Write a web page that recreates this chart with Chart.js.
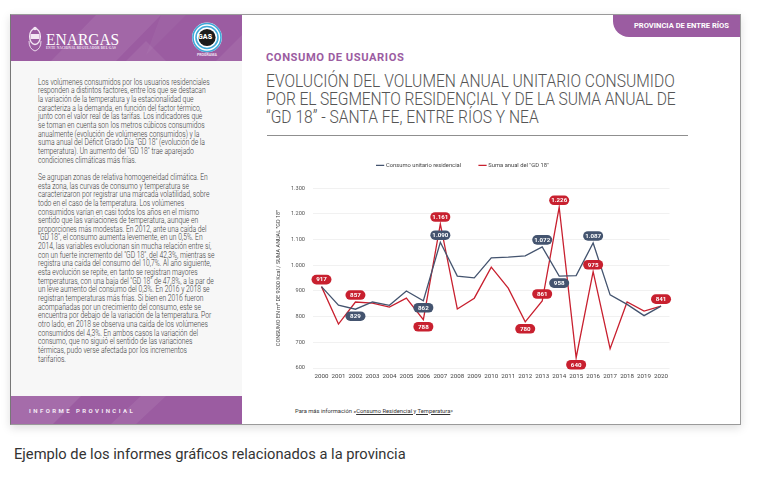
<!DOCTYPE html>
<html lang="es"><head><meta charset="utf-8">
<script src="https://cdn.jsdelivr.net/npm/chart.js@4"></script>
<style>
html,body{margin:0;padding:0;background:#fff;width:757px;height:481px;overflow:hidden;font-family:Roboto,sans-serif}
.abs{position:absolute;white-space:nowrap}
#card{position:absolute;left:10px;top:14px;width:729px;height:409px;background:#fff;border:1px solid #9a9a9a;border-left-color:#777;box-shadow:0 3px 9px rgba(0,0,0,.13);box-sizing:content-box}
#side{position:absolute;left:11px;top:15px;width:231px;height:409px;background:#f7f7f7}
.band{position:absolute;left:11px;width:231px;background:#9b5ca1;overflow:hidden}
.band svg{position:absolute;left:0;top:0}
#tab{position:absolute;left:613px;top:15px;width:127px;height:22px;background:#9b5ca1;border-bottom-left-radius:16px;color:#fff;font:700 7.6px/22px Roboto,sans-serif;text-align:right;padding-right:11px;box-sizing:border-box}
#para{position:absolute;left:38px;top:0;font:300 8.35px/8.65px Roboto,sans-serif;color:#3a3a3a;transform:scaleX(.807);transform-origin:0 0}
#para div{position:absolute;left:0;white-space:nowrap}
#chartWrap{position:absolute;left:253px;top:144px;width:420px;height:246px}
</style></head><body>
<div id="card"></div>
<div id="side"></div>
<div class="band" style="top:15px;height:46px"><svg width="231" height="46"><polygon points="40,46 85,0 150,0 105,46" fill="#fff" opacity=".07"/><polygon points="115,46 135,26 155,46" fill="#fff" opacity=".07"/><polygon points="205,46 231,20 231,46" fill="#fff" opacity=".07"/><polygon points="150,0 175,0 135,40" fill="#fff" opacity=".04"/></svg></div>
<div class="band" style="top:396px;height:28px"><svg width="231" height="28"><polygon points="0,0 70,0 42,28 0,28" fill="#fff" opacity=".1"/><polygon points="100,28 130,0 155,0 125,28" fill="#fff" opacity=".07"/></svg></div>
<svg class="abs" style="left:0;top:0" width="242" height="62">
<ellipse cx="35" cy="36.5" rx="5.4" ry="8" fill="none" stroke="#f3e6f4" stroke-width="1.3"/>
<rect x="30.5" y="34" width="9" height="5" fill="#f3e6f4"/>
<circle cx="35" cy="28.5" r="1.8" fill="#f3e6f4"/>
<path d="M29 41 q0 8 6 10 q6 -2 6 -10" fill="none" stroke="#f3e6f4" stroke-width=".9"/>
<circle cx="207" cy="37.5" r="15" fill="#fff"/>
<circle cx="207" cy="37.5" r="14" fill="none" stroke="#3fa9d8" stroke-width="1.6"/>
<circle cx="207" cy="37.5" r="11" fill="none" stroke="#3fa9d8" stroke-width="1.6"/>
<circle cx="207" cy="37.5" r="8.6" fill="#1c1c1c"/>
</svg>
<div class="abs" style="left:45.5px;top:27.5px;font:400 16.5px/24px 'Liberation Serif',serif;color:#fff;transform:scaleX(.94);transform-origin:0 0">ENARGAS</div>
<div class="abs" style="left:46px;top:46.3px;font:700 3.3px/5px 'Liberation Serif',serif;color:#f3e6f4;letter-spacing:.17px">ENTE NACIONAL REGULADOR DEL GAS</div>
<div class="abs" style="left:198px;top:33px;font:900 7px/9px Roboto,sans-serif;color:#fff;letter-spacing:.1px">GAS</div>
<div class="abs" style="left:197px;top:52.5px;font:700 3.6px/5px Roboto,sans-serif;color:#f0e2f2">PROGRAMA</div>
<div id="para"></div>
<div class="abs" style="left:29px;top:405px;font:700 6px/11px Roboto,sans-serif;color:#f4eaf5;letter-spacing:2.45px">INFORME PROVINCIAL</div>
<div id="tab">PROVINCIA DE ENTRE RÍOS</div>
<div class="abs" style="left:266px;top:50px;font:700 11.2px/15px Roboto,sans-serif;color:#9b5ca1;letter-spacing:.55px">CONSUMO DE USUARIOS</div>
<div class="abs" style="left:266px;top:72px;font:300 18.4px/18.2px Roboto,sans-serif;color:#555;transform:scaleX(.85);transform-origin:0 0">EVOLUCIÓN DEL VOLUMEN ANUAL UNITARIO CONSUMIDO<br><span style="letter-spacing:-.16px">POR EL SEGMENTO RESIDENCIAL Y DE LA SUMA ANUAL DE</span><br>“GD 18” - SANTA FE, ENTRE RÍOS Y NEA</div>
<div class="abs" style="left:267px;top:135px;width:421px;height:1px;background:#8f8f8f"></div>
<div id="chartWrap"><canvas id="c" width="420" height="246"></canvas></div>
<div class="abs" style="left:295px;top:406.5px;font:400 5.8px/9px Roboto,sans-serif;color:#333">Para más información «<u>Consumo Residencial y Temperatura</u>»</div>
<div class="abs" style="left:14px;top:445px;font:400 14.7px/18px Roboto,sans-serif;color:#333">Ejemplo de los informes gráficos relacionados a la provincia</div>
<script>
const years = ['2000','2001','2002','2003','2004','2005','2006','2007','2008','2009','2010','2011','2012','2013','2014','2015','2016','2017','2018','2019','2020'];
const consumoUnitario = [917,845,829,857,844,900,862,1090,958,951,1029,1032,1037,1072,958,960,1087,885,848,804,841];
const sumaGD18 = [917,771,857,853,837,872,788,1161,830,872,993,911,780,861,1226,640,975,675,857,822,841];
const seriesNames = ['Consumo unitario residencial','Suma anual del "GD 18"'];
const yTitle = 'CONSUMO EN m³ DE 9300 Kcal / SUMA ANUAL "GD 18"';
const blueAbove = ['2007','2013','2016'];
const blueBelow = ['2002','2006','2014'];
const redAbove = ['2000','2002','2007','2013','2014','2016','2020'];
const redBelow = ['2006','2012','2015'];
const paragraphLines = [
'Los volúmenes consumidos por los usuarios residenciales','responden a distintos factores, entre los que se destacan','la variación de la temperatura y la estacionalidad que','caracteriza a la demanda, en función del factor térmico,','junto con el valor real de las tarifas. Los indicadores que','se toman en cuenta son los metros cúbicos consumidos','anualmente (evolución de volúmenes consumidos) y la','suma anual del Déficit Grado Día "GD 18" (evolución de la','temperatura). Un aumento del "GD 18" trae aparejado','condiciones climáticas más frías.','',
'Se agrupan zonas de relativa homogeneidad climática. En','esta zona, las curvas de consumo y temperatura se','caracterizaron por registrar una marcada volatilidad, sobre','todo en el caso de la temperatura. Los volúmenes','consumidos varían en casi todos los años en el mismo','sentido que las variaciones de temperatura, aunque en','proporciones más modestas. En 2012, ante una caída del','"GD 18", el consumo aumenta levemente, en un 0,5%. En','2014, las variables evolucionan sin mucha relación entre sí,','con un fuerte incremento del "GD 18", del 42,3%, mientras se','registra una caída del consumo del 10,7%. Al año siguiente,','esta evolución se repite, en tanto se registran mayores','temperaturas, con una baja del "GD 18" de 47,8%, a la par de','un leve aumento del consumo del 0,3%. En 2016 y 2018 se','registran temperaturas más frías. Si bien en 2016 fueron','acompañadas por un crecimiento del consumo, este se','encuentra por debajo de la variación de la temperatura. Por','otro lado, en 2018 se observa una caída de los volúmenes','consumidos del 4,3%. En ambos casos la variación del','consumo, que no siguió el sentido de las variaciones','térmicas, pudo verse afectada por los incrementos','tarifarios.'];

const para = document.getElementById('para');
let py = 77.8;
paragraphLines.forEach((t,i)=>{
  if(t===''){ py += 8.6; return; }
  const d=document.createElement('div'); d.textContent=t; d.style.top=py+'px'; para.appendChild(d); py+=8.65;
});

const BLUE='#44546f', RED='#c8202f';
const fmt = v => v>=1000 ? String(v).replace(/(\d)(\d{3})$/,'$1.$2') : String(v);
const legendGap = {
  id:'legendGap',
  beforeLayout(chart){
    const lg=chart.legend;
    if(lg && !lg._gapWrapped){
      const f=lg.fit;
      lg.fit=function(){ f.call(this); this.height+=10; };
      lg._gapWrapped=true;
    }
  }
};
const pillPlugin = {
  id:'pills',
  afterDatasetsDraw(chart){
    const ctx=chart.ctx, w=20, h=9.6, gap=7;
    const draw=(dsIndex,list,dir,color)=>{
      const meta=chart.getDatasetMeta(dsIndex), vals=chart.data.datasets[dsIndex].data;
      list.forEach(y=>{
        const i=years.indexOf(y), p=meta.data[i];
        const cy=p.y+dir*gap;
        ctx.save();
        ctx.fillStyle=color; ctx.beginPath(); ctx.roundRect(p.x-w/2,cy-h/2,w,h,h/2); ctx.fill();
        ctx.fillStyle='#fff'; ctx.font='700 6.2px Roboto'; ctx.textAlign='center'; ctx.textBaseline='middle';
        ctx.fillText(fmt(vals[i]),p.x,cy+.3);
        ctx.restore();
      });
    };
    draw(0,blueAbove,-1,BLUE); draw(0,blueBelow,1,BLUE);
    draw(1,redAbove,-1,RED); draw(1,redBelow,1,RED);
  }
};
new Chart(document.getElementById('c'),{
  type:'line',
  data:{labels:years,datasets:[
    {label:seriesNames[0],data:consumoUnitario,borderColor:BLUE,backgroundColor:BLUE,borderWidth:1.3,pointRadius:0,tension:0},
    {label:seriesNames[1],data:sumaGD18,borderColor:RED,backgroundColor:RED,borderWidth:1.3,pointRadius:0,tension:0}
  ]},
  plugins:[legendGap,pillPlugin],
  options:{
    responsive:false,animation:false,devicePixelRatio:1,
    layout:{padding:0},
    plugins:{tooltip:{enabled:false},
      legend:{position:'top',labels:{usePointStyle:true,pointStyle:'line',boxWidth:13,boxHeight:6,padding:18.5,color:'#444',font:{family:'Roboto',size:5.8}}}},
    scales:{
      x:{offset:true,grid:{display:false,drawTicks:false},border:{display:false},
        afterFit(s){s.height=22;},
        ticks:{autoSkip:false,maxRotation:0,padding:5,color:'#444',font:{family:'Roboto',size:6.2}}},
      y:{min:600,max:1300,afterFit(s){s.width=60;},
        grid:{color:'#f1f1f1',lineWidth:1,drawTicks:false},border:{display:false},
        title:{display:true,text:yTitle,color:'#444',font:{family:'Roboto',size:5.5},padding:{top:22,bottom:0}},
        ticks:{stepSize:100,padding:8,color:'#555',font:{family:'Roboto',size:5.6},callback:v=>fmt(v)}}
    }
  }
});
</script>
</body></html>
